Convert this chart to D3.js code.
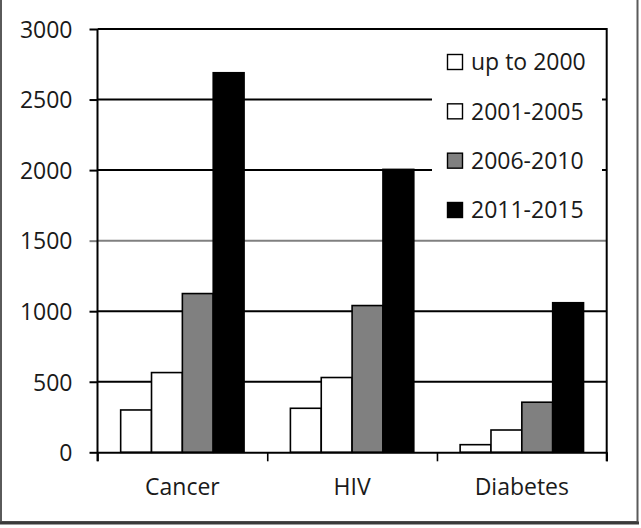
<!DOCTYPE html>
<html>
<head>
<meta charset="utf-8">
<script src="https://cdn.jsdelivr.net/npm/d3@7"></script>
<style>
  html, body { margin: 0; padding: 0; background: #fff; }
  svg { display: block; }
  text { font-family: "Open Sans", sans-serif; fill: #1a1a1a; }
</style>
</head>
<body>
<div id="chart"></div>
<script>
const categories = ['Cancer', 'HIV', 'Diabetes'];
const periods = ['up to 2000', '2001-2005', '2006-2010', '2011-2015'];
const upTo2000 = [300, 312, 54];
const y2001_2005 = [565, 530, 158];
const y2006_2010 = [1125, 1040, 355];
const y2011_2015 = [2690, 2005, 1060];
const yTicks = [0, 500, 1000, 1500, 2000, 2500, 3000];

const seriesValues = [upTo2000, y2001_2005, y2006_2010, y2011_2015];
const fills = ['#ffffff', '#ffffff', '#808080', '#000000'];

const W = 641, H = 528;
const margin = { top: 29, right: 34.3, bottom: 75.7, left: 97.5 };
const width = W - margin.left - margin.right;
const height = H - margin.top - margin.bottom;
const fontSize = 23;

const svg = d3.select('#chart').append('svg')
    .attr('width', W)
    .attr('height', H);

// outer frame
svg.append('rect')
    .attr('x', 1).attr('y', -3)
    .attr('width', 636.5).attr('height', 525)
    .attr('fill', 'none')
    .attr('stroke', '#5a5a5a')
    .attr('stroke-width', 2);
svg.append('line')
    .attr('x1', 0).attr('x2', 639)
    .attr('y1', 523).attr('y2', 523)
    .attr('stroke', '#3a3a3a')
    .attr('stroke-width', 3);

const g = svg.append('g')
    .attr('transform', `translate(${margin.left},${margin.top})`);

const x0 = d3.scaleBand()
    .domain(categories)
    .range([0, width])
    .paddingInner(0.273)
    .paddingOuter(0.1365);

const x1 = d3.scaleBand()
    .domain(d3.range(periods.length))
    .range([0, x0.bandwidth()]);

const y = d3.scaleLinear()
    .domain([0, 3000])
    .range([height, 0]);

// gridlines
g.append('g').attr('class', 'grid')
    .selectAll('line')
    .data(yTicks.filter(d => d > 0))
    .join('line')
    .attr('x1', 0)
    .attr('x2', width)
    .attr('y1', d => y(d))
    .attr('y2', d => y(d))
    .attr('stroke', d => d === 1500 ? '#808080' : '#000')
    .attr('stroke-width', 2);

// y axis
const yAxis = g.append('g')
    .call(d3.axisLeft(y).tickValues(yTicks).tickFormat(d3.format('d'))
        .tickSize(8).tickSizeOuter(0).tickPadding(17));
yAxis.select('.domain').remove();
yAxis.selectAll('.tick line')
    .attr('stroke', d => d === 1500 ? '#808080' : '#000')
    .attr('stroke-width', 2);
yAxis.selectAll('.tick text')
    .attr('font-size', fontSize)
    .attr('dy', '0.36em')
    .style('font-family', '"Open Sans", sans-serif')
    .attr('fill', '#1a1a1a');

// bars
const groups = g.append('g')
    .selectAll('g')
    .data(categories)
    .join('g')
    .attr('transform', d => `translate(${x0(d)},0)`);

groups.selectAll('rect')
    .data((d, i) => seriesValues.map((vals, s) => ({ s, value: vals[i] })))
    .join('rect')
    .attr('x', d => x1(d.s))
    .attr('y', d => y(d.value))
    .attr('width', x1.bandwidth())
    .attr('height', d => height - y(d.value))
    .attr('fill', d => fills[d.s])
    .attr('stroke', '#000')
    .attr('stroke-width', 1.6);

// x axis line and boundary ticks
const xb = d3.scaleLinear().domain([0, categories.length]).range([0, width]);
const xAxis = g.append('g')
    .attr('transform', `translate(0,${height})`)
    .call(d3.axisBottom(xb).tickValues(d3.range(categories.length + 1)).tickFormat('').tickSize(9).tickSizeOuter(0));
xAxis.select('.domain').attr('stroke', '#000').attr('stroke-width', 2);
xAxis.selectAll('.tick line').attr('stroke', '#000').attr('stroke-width', 1.6);

// category labels
const xLabels = g.append('g')
    .attr('transform', `translate(0,${height})`)
    .call(d3.axisBottom(x0).tickSize(0).tickPadding(26));
xLabels.select('.domain').remove();
xLabels.selectAll('.tick text')
    .attr('font-size', fontSize)
    .style('font-family', '"Open Sans", sans-serif')
    .attr('fill', '#1a1a1a');

// y axis line and right border
g.append('line')
    .attr('x1', 0).attr('x2', 0)
    .attr('y1', 0).attr('y2', height + 9)
    .attr('stroke', '#000').attr('stroke-width', 2);
g.append('line')
    .attr('x1', width).attr('x2', width)
    .attr('y1', -1).attr('y2', height + 9)
    .attr('stroke', '#000').attr('stroke-width', 2);

// legend
const legend = g.append('g')
    .attr('transform', `translate(${432 - margin.left},${36 - margin.top})`);
legend.append('rect')
    .attr('width', 170)
    .attr('height', 196)
    .attr('fill', '#fff');

const rowY = d3.scalePoint().domain(periods).range([26, 174]);
const items = legend.selectAll('.item')
    .data(periods)
    .join('g')
    .attr('class', 'item')
    .attr('transform', d => `translate(0,${rowY(d)})`);

items.append('rect')
    .attr('x', 15.5)
    .attr('y', -7.5)
    .attr('width', 15)
    .attr('height', 15)
    .attr('fill', (d, i) => fills[i])
    .attr('stroke', '#000')
    .attr('stroke-width', 1.4);

items.append('text')
    .attr('x', 39)
    .attr('dy', '0.36em')
    .attr('font-size', fontSize)
    .text(d => d);
</script>
</body>
</html>
